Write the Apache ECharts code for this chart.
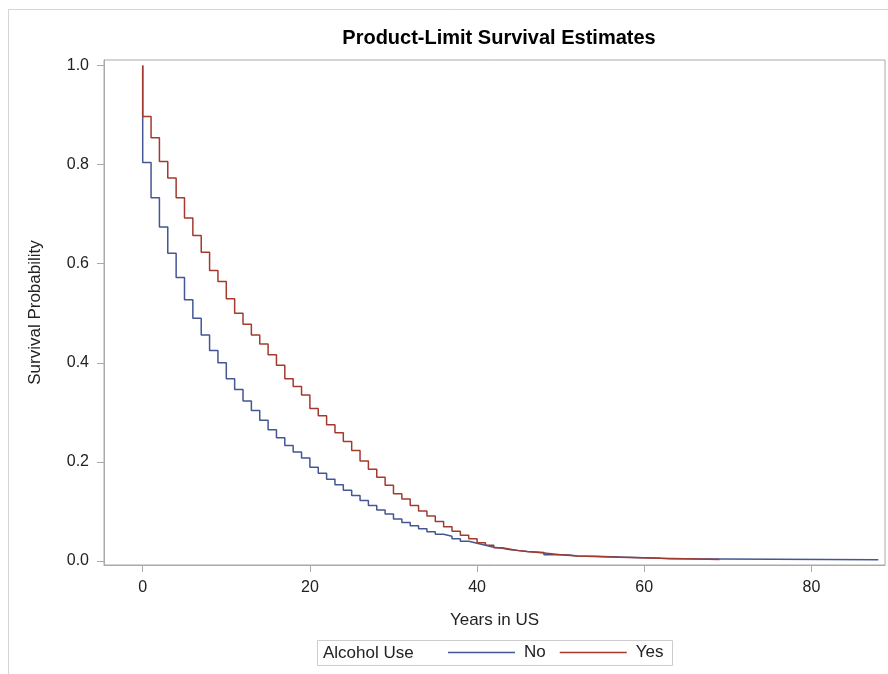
<!DOCTYPE html>
<html>
<head>
<meta charset="utf-8">
<script src="https://cdn.jsdelivr.net/npm/echarts@6/dist/echarts.min.js"></script>
<style>
  html, body { margin: 0; padding: 0; background: #fff; }
  #chart { width: 888px; height: 674px; }
</style>
</head>
<body>
<div id="chart"></div>
<script>
// ---- Data (Kaplan-Meier step estimates) ----
const xTicks = [0, 20, 40, 60, 80];
const yTicks = [0, 0.2, 0.4, 0.6, 0.8, 1.0];

const noTimes = [0, 0, 1, 2, 3, 4, 5, 6, 7, 8, 9, 10, 11, 12, 13, 14, 15, 16, 17, 18, 19, 20,
  21, 22, 23, 24, 25, 26, 27, 28, 29, 30, 31, 32, 33, 34, 35, 36, 37, 38, 39, 40,
  41, 42, 43, 44, 45, 46, 48, 50, 51, 52, 54, 58, 62, 63, 88];
const noSurv = [1.0, 0.804, 0.733, 0.674, 0.621, 0.572, 0.527, 0.490, 0.456, 0.425, 0.400, 0.368,
  0.346, 0.323, 0.304, 0.284, 0.265, 0.249, 0.233, 0.220, 0.208, 0.189,
  0.177, 0.165, 0.154, 0.143, 0.132, 0.122, 0.112, 0.103, 0.095, 0.085, 0.078, 0.071, 0.065, 0.059,
  0.054, 0.050, 0.045, 0.040, 0.036, 0.032,
  0.028, 0.026, 0.023, 0.021, 0.019, 0.017, 0.0127, 0.012, 0.010, 0.0095, 0.0074, 0.0054, 0.0045, 0.0025, 0.0025];

const yesTimes = [0, 0, 1, 2, 3, 4, 5, 6, 7, 8, 9, 10, 11, 12, 13, 14, 15, 16, 17, 18, 19, 20,
  21, 22, 23, 24, 25, 26, 27, 28, 29, 30, 31, 32, 33, 34, 35, 36, 37, 38, 39, 40,
  41, 42, 43, 44, 45, 46, 48, 50, 52, 57, 62, 69];
const yesSurv = [1.0, 0.897, 0.854, 0.806, 0.773, 0.733, 0.692, 0.657, 0.623, 0.586, 0.564, 0.529,
  0.500, 0.478, 0.456, 0.438, 0.416, 0.395, 0.368, 0.352, 0.335, 0.308,
  0.293, 0.275, 0.259, 0.241, 0.223, 0.202, 0.185, 0.169, 0.153, 0.136, 0.125, 0.112, 0.101, 0.091,
  0.080, 0.069, 0.060, 0.052, 0.045, 0.037,
  0.032, 0.027, 0.024, 0.021, 0.019, 0.016, 0.0127, 0.010, 0.0074, 0.0054, 0.0032, 0.0032];

const seriesNames = ['No', 'Yes'];
const seriesColors = ['#445694', '#A23A2E'];

function zip(t, v) { return t.map((x, i) => [x, v[i]]); }

const FONT = 'Liberation Sans, Arial, sans-serif';
const AXIS_COLOR = '#a9a9a9';
const TEXT_COLOR = '#222';

const chart = echarts.init(document.getElementById('chart'), null, { renderer: 'canvas' });

chart.setOption({
  animation: false,
  backgroundColor: '#fff',
  title: {
    text: 'Product-Limit Survival Estimates',
    left: 494,
    top: 23,
    textAlign: 'center',
    textStyle: { fontFamily: FONT, fontWeight: 'bold', fontSize: 20, color: '#000' }
  },
  graphic: [
    { type: 'rect', shape: { x: 8.5, y: 9.5, width: 900, height: 700 },
      style: { fill: 'none', stroke: '#d4d4d4', lineWidth: 1 }, silent: true },
    { type: 'rect', shape: { x: 317.5, y: 640.5, width: 355, height: 25 },
      style: { fill: 'none', stroke: '#cccccc', lineWidth: 1 }, silent: true },
    { type: 'text', x: 323, y: 653,
      style: { text: 'Alcohol Use', fontFamily: FONT, fontSize: 17, fill: TEXT_COLOR,
               textVerticalAlign: 'middle', verticalAlign: 'middle' }, silent: true }
  ],
  legend: {
    data: seriesNames,
    left: 448,
    top: 644,
    padding: 0,
    icon: 'rect',
    itemWidth: 67,
    itemHeight: 1.5,
    itemGap: 14,
    textStyle: { fontFamily: FONT, fontSize: 17, color: TEXT_COLOR, padding: [0, 0, 0, 4] }
  },
  grid: {
    left: 104, right: 3, top: 60, bottom: 109,
    show: true, borderColor: AXIS_COLOR, borderWidth: 1, backgroundColor: 'transparent'
  },
  xAxis: {
    type: 'value',
    min: -4.63,
    max: 88.8,
    name: 'Years in US',
    nameLocation: 'middle',
    nameGap: 47,
    nameTextStyle: { fontFamily: FONT, fontSize: 17, color: TEXT_COLOR },
    axisLine: { show: true, onZero: false, lineStyle: { color: AXIS_COLOR } },
    axisTick: { show: true, length: 7, lineStyle: { color: AXIS_COLOR }, customValues: xTicks },
    axisLabel: { fontFamily: FONT, fontSize: 16, color: TEXT_COLOR, margin: 15, customValues: xTicks },
    splitLine: { show: false }
  },
  yAxis: {
    type: 'value',
    min: -0.008,
    max: 1.011,
    name: 'Survival Probability',
    nameLocation: 'middle',
    nameGap: 60,
    nameTextStyle: { fontFamily: FONT, fontSize: 17, color: TEXT_COLOR },
    axisLine: { show: true, onZero: false, lineStyle: { color: AXIS_COLOR } },
    axisTick: { show: true, length: 7, lineStyle: { color: AXIS_COLOR }, customValues: yTicks },
    axisLabel: { fontFamily: FONT, fontSize: 16, color: TEXT_COLOR, margin: 15, customValues: yTicks,
                 formatter: v => v.toFixed(1) },
    splitLine: { show: false }
  },
  series: [
    { name: seriesNames[0], type: 'line', step: 'end', symbol: 'none', data: zip(noTimes, noSurv),
      color: seriesColors[0], lineStyle: { width: 1.5, color: seriesColors[0] } },
    { name: seriesNames[1], type: 'line', step: 'end', symbol: 'none', data: zip(yesTimes, yesSurv),
      color: seriesColors[1], lineStyle: { width: 1.5, color: seriesColors[1] } }
  ]
});
</script>
</body>
</html>
